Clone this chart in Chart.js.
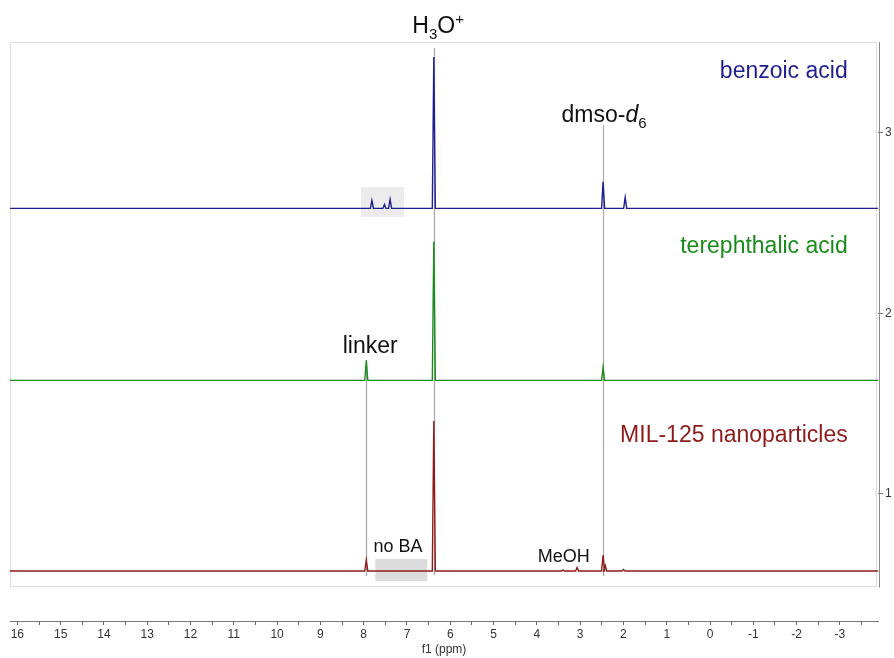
<!DOCTYPE html>
<html lang="en">
<head>
    <meta charset="UTF-8">
    <title>1H NMR - MIL-125 digestion</title>
    <script src="https://cdn.jsdelivr.net/npm/chart.js"></script>
    <style>
        body {
            margin: 0;
            padding: 0;
            background-color: #ffffff;
        }

        canvas {
            display: block;
        }
    </style>
</head>
<body>
    <canvas id="nmrChart" width="894" height="658"></canvas>

    <script>
        // Chemical shift ticks (ppm) and right-hand intensity ticks
        const xTickLabels = [16, 15, 14, 13, 12, 11, 10, 9, 8, 7, 6, 5, 4, 3, 2, 1, 0, -1, -2, -3];
        const yTickLabels = [1, 2, 3];

        // Spectra, top to bottom
        const seriesNames = ['benzoic acid', 'terephthalic acid', 'MIL-125 nanoparticles'];
        const seriesColors = ['#1e1e8e', '#1b8c1b', '#8e1b1b'];
        const baselines = [2.582, 1.629, 0.573];

        const benzoicShifts = [7.81, 7.52, 7.39, 6.38, 2.47, 1.96];
        const benzoicHeights = [0.044, 0.022, 0.050, 0.839, 0.148, 0.061];

        const terephShifts = [7.94, 6.38, 2.47];
        const terephHeights = [0.111, 0.770, 0.072];

        const milShifts = [7.94, 6.38, 3.40, 3.07, 2.47, 2.42, 2.00];
        const milHeights = [0.061, 0.831, 0.006, 0.019, 0.089, 0.030, 0.008];

        const X_MAX = 16.17;
        const X_MIN = -3.88;
        const Y_MIN = 0.296;
        const Y_MAX = 3.504;
        const HALF_WIDTH = 0.035;

        // baseline with a narrow stick for every peak
        function spectrum(base, shifts, heights) {
            const pts = [{ x: X_MAX, y: base }];
            shifts.forEach((s, i) => {
                pts.push({ x: s + HALF_WIDTH, y: base });
                pts.push({ x: s, y: base + heights[i] });
                pts.push({ x: s - HALF_WIDTH, y: base });
            });
            pts.push({ x: X_MIN, y: base });
            return pts;
        }

        const peakSets = [
            [benzoicShifts, benzoicHeights],
            [terephShifts, terephHeights],
            [milShifts, milHeights]
        ];

        const datasets = seriesNames.map((name, i) => ({
            label: name,
            data: spectrum(baselines[i], peakSets[i][0], peakSets[i][1]),
            borderColor: seriesColors[i],
            borderWidth: 1.4,
            pointRadius: 0,
            tension: 0,
            fill: false
        }));

        // grey marker lines (ppm, from, to)
        const refLines = [
            [6.38, 3.471, 0.551],
            [2.47, 3.044, 0.545],
            [7.94, 1.737, 0.545]
        ];

        // shaded boxes (ppm left, ppm right, top, bottom, colour)
        const boxes = [
            [8.06, 7.07, 2.700, 2.535, '#ececec'],
            [7.73, 6.53, 0.640, 0.518, '#dcdcdc']
        ];

        const FRAME_BOTTOM = 0.49;
        const FRAME_RIGHT = -3.83;

        const decorations = {
            id: 'decorations',
            beforeDatasetsDraw(chart) {
                const { ctx, chartArea, scales: { x, y } } = chart;
                ctx.save();

                // frame round the spectra
                ctx.strokeStyle = '#dedede';
                ctx.lineWidth = 1;
                const fr = Math.round(x.getPixelForValue(FRAME_RIGHT)) + 0.5;
                const fb = Math.round(y.getPixelForValue(FRAME_BOTTOM)) + 0.5;
                ctx.strokeRect(chartArea.left + 0.5, chartArea.top + 0.5, fr - chartArea.left - 0.5, fb - chartArea.top - 0.5);

                boxes.forEach(([x0, x1, y0, y1, c]) => {
                    const px0 = x.getPixelForValue(x0);
                    const px1 = x.getPixelForValue(x1);
                    const py0 = y.getPixelForValue(y0);
                    const py1 = y.getPixelForValue(y1);
                    ctx.fillStyle = c;
                    ctx.fillRect(px0, py0, px1 - px0, py1 - py0);
                });

                ctx.strokeStyle = '#a8a8a8';
                ctx.lineWidth = 1.2;
                refLines.forEach(([s, top, bottom]) => {
                    const px = Math.round(x.getPixelForValue(s)) + 0.5;
                    ctx.beginPath();
                    ctx.moveTo(px, y.getPixelForValue(top));
                    ctx.lineTo(px, y.getPixelForValue(bottom));
                    ctx.stroke();
                });

                // right axis line
                ctx.strokeStyle = '#8a8a8a';
                ctx.lineWidth = 1;
                ctx.beginPath();
                ctx.moveTo(chartArea.right + 1.5, chartArea.top);
                ctx.lineTo(chartArea.right + 1.5, fb + 1);
                ctx.stroke();
                ctx.restore();
            },
            afterDatasetsDraw(chart) {
                const { ctx, scales: { x, y } } = chart;
                const big = '23px "Liberation Sans", Arial, sans-serif';
                const small = '15px "Liberation Sans", Arial, sans-serif';
                const mid = '18px "Liberation Sans", Arial, sans-serif';
                ctx.save();
                ctx.textBaseline = 'alphabetic';

                // series names, right aligned
                ctx.font = big;
                ctx.textAlign = 'right';
                const nameY = [3.305, 2.335, 1.288];
                seriesNames.forEach((n, i) => {
                    ctx.fillStyle = seriesColors[i];
                    ctx.fillText(n, x.getPixelForValue(-3.18), y.getPixelForValue(nameY[i]));
                });

                ctx.fillStyle = '#111';
                ctx.textAlign = 'left';

                // pieces of text with sub/superscripts, drawn left to right
                function rich(parts, px, py) {
                    let cx = px;
                    parts.forEach(([t, font, dy]) => {
                        ctx.font = font;
                        ctx.fillText(t, cx, py + dy);
                        cx += ctx.measureText(t).width;
                    });
                }
                function richWidth(parts) {
                    return parts.reduce((w, [t, font]) => {
                        ctx.font = font;
                        return w + ctx.measureText(t).width;
                    }, 0);
                }

                const h3o = [['H', big, 0], ['3', small, 6], ['O', big, 0], ['+', small, -9]];
                rich(h3o, x.getPixelForValue(6.28) - richWidth(h3o) / 2, y.getPixelForValue(3.554));

                const dmso = [['dmso-', big, 0], ['d', 'italic ' + big, 0], ['6', small, 6]];
                rich(dmso, x.getPixelForValue(3.43), y.getPixelForValue(3.063));

                ctx.textAlign = 'center';
                ctx.font = big;
                ctx.fillText('linker', x.getPixelForValue(7.85), y.getPixelForValue(1.781));

                ctx.font = mid;
                ctx.fillText('no BA', x.getPixelForValue(7.21), y.getPixelForValue(0.679));
                ctx.fillText('MeOH', x.getPixelForValue(3.38), y.getPixelForValue(0.625));
                ctx.restore();
            }
        };

        const majorSet = new Set(xTickLabels);

        new Chart(document.getElementById('nmrChart').getContext('2d'), {
            type: 'line',
            data: { datasets },
            plugins: [decorations],
            options: {
                responsive: false,
                animation: false,
                parsing: true,
                layout: { padding: { left: 10, top: 42, right: 0, bottom: 0 } },
                plugins: {
                    legend: { display: false },
                    tooltip: { enabled: false }
                },
                scales: {
                    x: {
                        type: 'linear',
                        reverse: true,
                        min: X_MIN,
                        max: X_MAX,
                        afterBuildTicks(scale) {
                            const ticks = [];
                            xTickLabels.forEach(v => {
                                ticks.push({ value: v });
                                if (v > xTickLabels[xTickLabels.length - 1] - 1) ticks.push({ value: v - 0.5 });
                            });
                            scale.ticks = ticks;
                        },
                        afterFit(scale) { scale.height = 37; },
                        ticks: {
                            autoSkip: false,
                            maxRotation: 0,
                            padding: 2,
                            color: '#333',
                            font: { size: 12, family: '"Liberation Sans", Arial, sans-serif' },
                            callback: v => (majorSet.has(v) ? String(v) : '')
                        },
                        grid: {
                            drawOnChartArea: false,
                            tickLength: 4,
                            tickColor: '#666'
                        },
                        border: { display: true, color: '#777', width: 1 },
                        title: {
                            display: true,
                            text: 'f1 (ppm)',
                            color: '#333',
                            padding: { top: 0, bottom: 1 },
                            font: { size: 12, family: '"Liberation Sans", Arial, sans-serif' }
                        }
                    },
                    y: {
                        type: 'linear',
                        position: 'right',
                        min: Y_MIN,
                        max: Y_MAX,
                        afterBuildTicks(scale) {
                            scale.ticks = yTickLabels.map(v => ({ value: v }));
                        },
                        afterFit(scale) { scale.width = 16; },
                        ticks: {
                            padding: 2,
                            color: '#333',
                            font: { size: 12, family: '"Liberation Sans", Arial, sans-serif' }
                        },
                        grid: {
                            drawOnChartArea: false,
                            tickLength: 5,
                            tickColor: '#777'
                        },
                        border: { display: false }
                    }
                }
            }
        });
    </script>
</body>
</html>
